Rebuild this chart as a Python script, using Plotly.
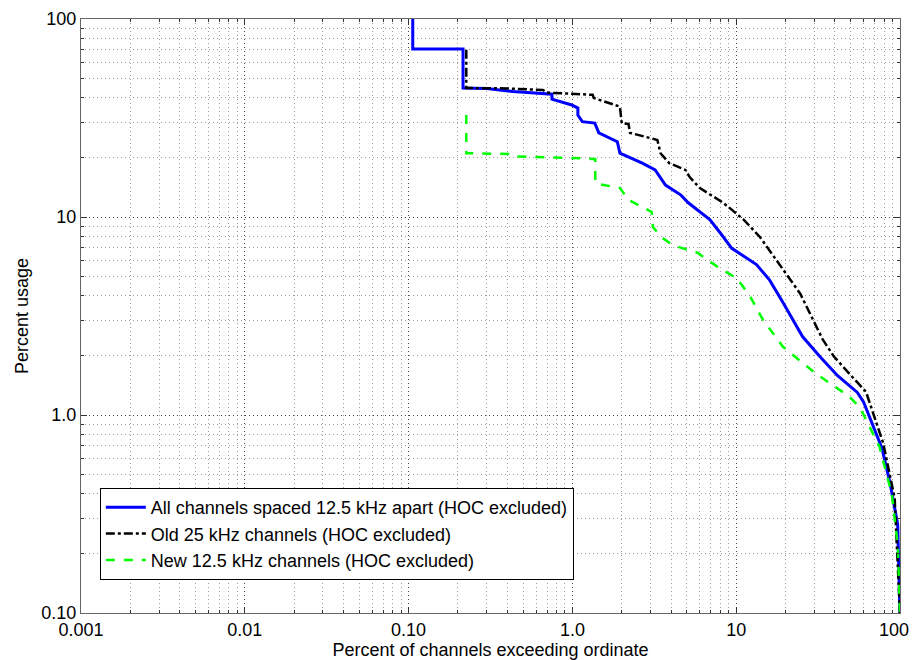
import plotly.graph_objects as go

# ---- data ----
all_x = [0.106, 0.106, 0.215, 0.215, 0.30, 0.434, 0.75, 0.75, 0.99, 1.08, 1.08, 1.15, 1.37, 1.45,
         1.88, 1.95, 2.67, 3.2, 3.7, 4.6, 5.1, 6.9, 8.0, 9.4, 13.3, 16.0, 19.3, 25.4, 32.5, 41.6,
         54.9, 60.0, 77.6, 87.1, 96.8, 99.9]
all_y = [100, 70.5, 70.5, 44.8, 44.5, 43.0, 41.7, 39.4, 36.8, 35.5, 32.7, 30.3, 29.8, 26.6,
         24.0, 21.0, 18.7, 17.3, 14.5, 12.9, 11.8, 9.7, 8.3, 6.95, 5.75, 4.8, 3.7, 2.49, 1.97, 1.58,
         1.30, 1.16, 0.68, 0.45, 0.28, 0.1]

old_x = [0.225, 0.225, 0.4, 0.66, 0.70, 1.33, 1.35, 1.95, 2.0, 2.2, 2.25, 3.3, 3.45, 3.9, 4.9,
         5.2, 6.0, 8.2, 9.5, 11.1, 14.0, 18.2, 20.1, 24.6, 33.8, 39.4, 51.0, 62.0, 68.6, 79.0,
         92.8, 99.9]
old_y = [70, 44.8, 44.6, 43.8, 42.5, 41.4, 39.9, 36.1, 29.8, 29.5, 26.6, 24.5, 21.0, 18.7, 17.3,
         15.9, 14.0, 11.9, 10.8, 9.7, 7.9, 5.8, 5.2, 4.1, 2.4, 1.98, 1.56, 1.31, 1.02, 0.72,
         0.38, 0.1]

new_x = [0.225, 0.225, 0.43, 0.45, 0.97, 1.38, 1.38, 1.95, 2.2, 3.05, 3.1, 3.5, 4.1, 5.8, 7.7,
         10.1, 12.1, 14.6, 19.3, 30.6, 49.0, 57.0, 75.0, 89.0, 97.0, 99.9]
new_y = [32.7, 21.0, 20.8, 20.2, 19.9, 19.6, 14.8, 14.0, 12.2, 10.6, 8.9, 7.9, 7.2, 6.6, 5.6,
         4.9, 4.0, 3.02, 2.21, 1.62, 1.24, 1.09, 0.69, 0.40, 0.22, 0.1]

x_tickvals = [0.001, 0.01, 0.1, 1, 10, 100]
x_ticktext = ["0.001", "0.01", "0.10", "1.0", "10", "100"]
y_tickvals = [0.1, 1, 10, 100]
y_ticktext = ["0.10", "1.0", "10", "100"]

names = ["All channels spaced 12.5 kHz apart (HOC excluded)",
         "Old 25 kHz channels (HOC excluded)",
         "New 12.5 kHz channels (HOC excluded)"]

x_minor = [m * 10 ** e for e in range(-3, 2) for m in range(2, 10)]
y_minor = [m * 10 ** e for e in range(-1, 2) for m in range(2, 10)]

fig = go.Figure()
fig.add_trace(go.Scatter(x=all_x, y=all_y, mode="lines", name=names[0],
                         line=dict(color="#0000ff", width=3)))
fig.add_trace(go.Scatter(x=old_x, y=old_y, mode="lines", name=names[1],
                         line=dict(color="#000000", width=2.5, dash="dashdot")))
fig.add_trace(go.Scatter(x=new_x, y=new_y, mode="lines", name=names[2],
                         line=dict(color="#00ff00", width=2.5, dash="dash")))

axis_common = dict(
    type="log", showline=True, linecolor="#666666", linewidth=1, mirror="allticks",
    ticks="inside", ticklen=6, tickcolor="#333333",
    showgrid=True, gridcolor="#444444", griddash="1px,3px", gridwidth=1,
    zeroline=False, tickfont=dict(size=18, color="black"),
    automargin=False,
)
minor_common = dict(tickmode="array", ticks="inside", ticklen=3, tickcolor="#333333",
                    showgrid=True, gridcolor="#9a9a9a", griddash="1px,3px", gridwidth=1)

# the last x tick label sits at the right edge; place it right-aligned so it stays visible
x_ticktext_drawn = x_ticktext[:-1] + [""]

fig.update_layout(
    width=912, height=660,
    margin=dict(l=81, r=12, t=19, b=47),
    paper_bgcolor="white", plot_bgcolor="white",
    font=dict(family="Liberation Sans, Arial, sans-serif", size=18, color="black"),
    xaxis=dict(**axis_common, range=[-3, 2], tickmode="array",
               tickvals=x_tickvals, ticktext=x_ticktext_drawn,
               title=dict(text="Percent of channels exceeding ordinate", standoff=0, font=dict(size=18)),
               minor=dict(tickvals=x_minor, **minor_common)),
    yaxis=dict(**axis_common, range=[-1, 2], tickmode="array",
               tickvals=y_tickvals, ticktext=y_ticktext,
               title=dict(text="Percent usage", standoff=8, font=dict(size=18)),
               minor=dict(tickvals=y_minor, **minor_common)),
    legend=dict(x=0.023, y=0.0556, xanchor="left", yanchor="bottom",
                bgcolor="white", bordercolor="black", borderwidth=1,
                font=dict(size=18), tracegroupgap=0, itemwidth=40),
    showlegend=True,
    annotations=[dict(text=x_ticktext[-1], x=2, xref="x", y=0, yref="paper",
                      xanchor="right", yanchor="top", xshift=11, yshift=-5,
                      showarrow=False, font=dict(size=18, color="black"))],
)

fig.write_html("out.html")
